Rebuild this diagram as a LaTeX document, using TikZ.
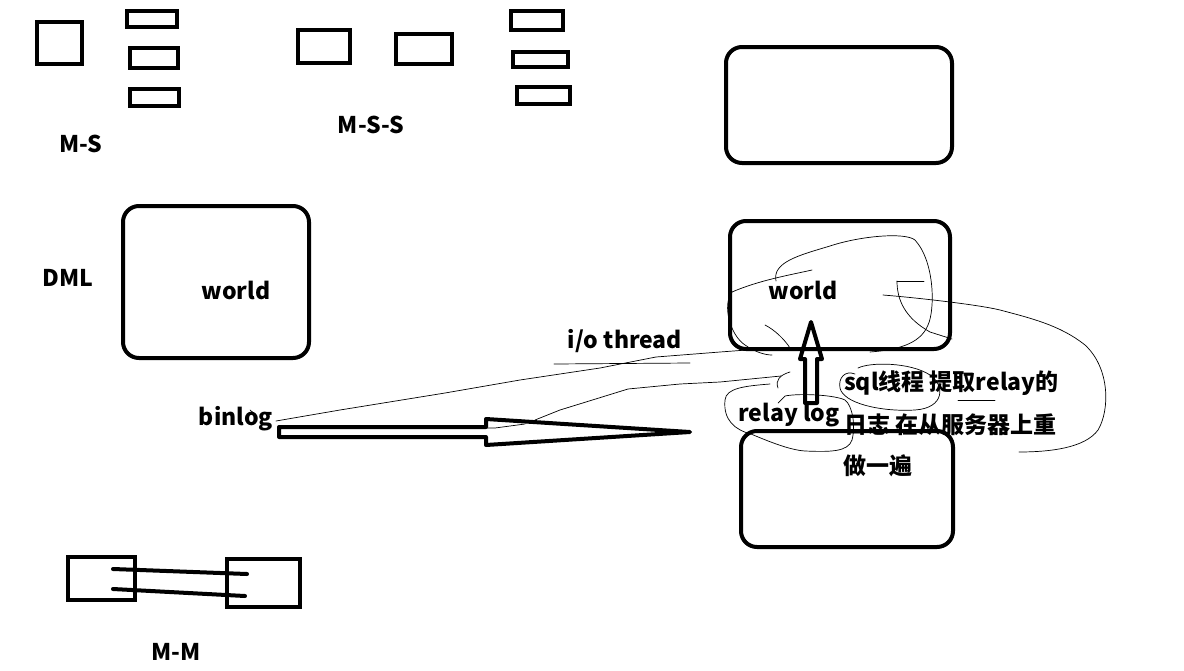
\documentclass[tikz,border=0pt]{standalone}
\usepackage{fontspec}
\setmainfont{Noto Sans CJK SC}
\begin{document}
\begin{tikzpicture}[x=1pt,y=-1pt,
  thick box/.style={draw, line width=4pt, inner sep=0pt, rectangle},
  round box/.style={draw, line width=4pt, inner sep=0pt, rectangle, rounded corners=16pt},
  lbl/.style={font=\fontsize{23}{26}\selectfont\bfseries, inner sep=0pt},
  scrib/.style={line width=0.7pt, line cap=round, line join=round},
  hollow/.style={draw, line width=4pt, line join=round}]
\useasboundingbox (0,0) rectangle (1184,670);
% ---------- M-S ----------
\node[thick box, minimum width=45pt, minimum height=42pt] (ms1) at (59.5,43) {};
\node[thick box, minimum width=50pt, minimum height=16pt] (ms2) at (152,19) {};
\node[thick box, minimum width=48pt, minimum height=20pt] (ms3) at (154,58) {};
\node[thick box, minimum width=49pt, minimum height=17pt] (ms4) at (154.5,97.5) {};
\node[lbl] (mslbl) at (81,144) {M-S};
% ---------- M-S-S ----------
\node[thick box, minimum width=52pt, minimum height=33pt] (mss1) at (324,46.5) {};
\node[thick box, minimum width=56pt, minimum height=30pt] (mss2) at (424,49) {};
\node[thick box, minimum width=52pt, minimum height=19pt] (mss3) at (537,20.5) {};
\node[thick box, minimum width=55pt, minimum height=15pt] (mss4) at (540.5,59.5) {};
\node[thick box, minimum width=53pt, minimum height=17pt] (mss5) at (543.5,95.5) {};
\node[lbl] (msslbl) at (371,125) {M-S-S};
% ---------- DML master ----------
\node[lbl] (dml) at (68,278) {DML};
\node[round box, minimum width=186pt, minimum height=152pt] (master) at (216,282) {};
\node[lbl] (w1) at (236,290) {world};
\node[lbl] (binlog) at (236,419) {binlog};
% ---------- slave side ----------
\node[round box, minimum width=226pt, minimum height=116pt] (top) at (839,105) {};
\node[round box, minimum width=220pt, minimum height=128pt] (slave) at (840,285) {};
\node[lbl] (w2) at (803,290) {world};
\node[lbl] (relaylbl) at (789,415) {relay log};
\node[lbl] (io) at (625,341) {i/o thread};
\node[lbl, anchor=west] (sql1) at (844,383) {sql线程 提取relay的};
\node[lbl, anchor=west] (sql2) at (844,425) {日志 在从服务器上重};
\node[lbl] (sql3) at (878,466) {做一遍};
\node[round box, minimum width=212pt, minimum height=116pt] (relay) at (847,489) {};
% ---------- hollow arrows ----------
\coordinate (htail) at (279,432);
\coordinate (htip) at (690,432);
\draw[hollow] (htail) ++(0,-5) -- (486,427) -- (486,419) -- (htip) -- (486,445) -- (486,437) -- (279,437) -- cycle;
\draw[scrib] (320,428) -- (495,428) -- (525,424);
\coordinate (vtail) at (811,403);
\coordinate (vtip) at (811,322);
\draw[hollow] (vtail) ++(-6,0) -- (805,359) -- (800,359) -- (vtip) -- (822,359) -- (817,359) -- (817,403) -- cycle;
% ---------- M-M ----------
\node[thick box, minimum width=67pt, minimum height=43pt] (mm1) at (101.5,578.5) {};
\node[thick box, minimum width=73pt, minimum height=48pt] (mm2) at (263.5,583) {};
\draw[line width=4pt, line cap=round] (113,569) -- (247,574);
\draw[line width=4pt, line cap=round] (113,589) -- (245,596);
\node[lbl] (mmlbl) at (176,652) {M-M};
% ---------- thin scribbles ----------
\draw[scrib] (554,364) -- (690,363);
\draw[scrib] (250,410) -- (256,415);
\draw[scrib] (276,421) -- (340,410) -- (445,393) -- (520,380) -- (600,368) -- (656,357) -- (720,352) -- (760,349) -- (802,348);
\draw[scrib] (535,420) -- (560,410) -- (628,389) -- (680,384) -- (720,382) -- (781,376);
\draw[scrib] (776,281) .. controls (772,262) and (800,255) .. (830,246)
  .. controls (860,236) and (905,232) .. (915,240)
  .. controls (935,262) and (935,310) .. (928,325)
  .. controls (920,345) and (895,350) .. (870,352);
\draw[scrib] (732,292) .. controls (760,280) and (790,275) .. (812,270);
\draw[scrib] (732,292) .. controls (722,305) and (730,335) .. (745,345) .. controls (755,352) and (765,355) .. (772,355);
\draw[scrib] (765,325) .. controls (775,330) and (785,340) .. (790,348);
\draw[scrib] (897,281) -- (924,281);
\draw[scrib] (897,281) .. controls (897,300) and (905,318) .. (930,332) -- (952,339);
\draw[scrib] (883,295) .. controls (920,298) and (980,305) .. (1000,310)
  .. controls (1030,318) and (1060,325) .. (1085,345)
  .. controls (1110,368) and (1110,410) .. (1098,430)
  .. controls (1085,448) and (1050,452) .. (1019,452);
\draw[scrib] (770,384) .. controls (745,386) and (726,388) .. (725,400)
  .. controls (723,420) and (735,430) .. (751,434)
  .. controls (770,442) and (790,450) .. (805,451)
  .. controls (830,452) and (848,452) .. (852,440)
  .. controls (856,425) and (852,405) .. (845,400)
  .. controls (835,395) and (800,393) .. (785,396) -- (778,403);
\draw[scrib] (790,372) .. controls (780,375) and (775,380) .. (778,388);
\draw[scrib] (855,374) .. controls (845,370) and (838,378) .. (840,388)
  .. controls (843,403) and (880,412) .. (915,410)
  .. controls (945,408) and (945,385) .. (930,375)
  .. controls (910,362) and (870,362) .. (858,368);
\draw[scrib] (958,400) -- (995,400);
\end{tikzpicture}
\end{document}
